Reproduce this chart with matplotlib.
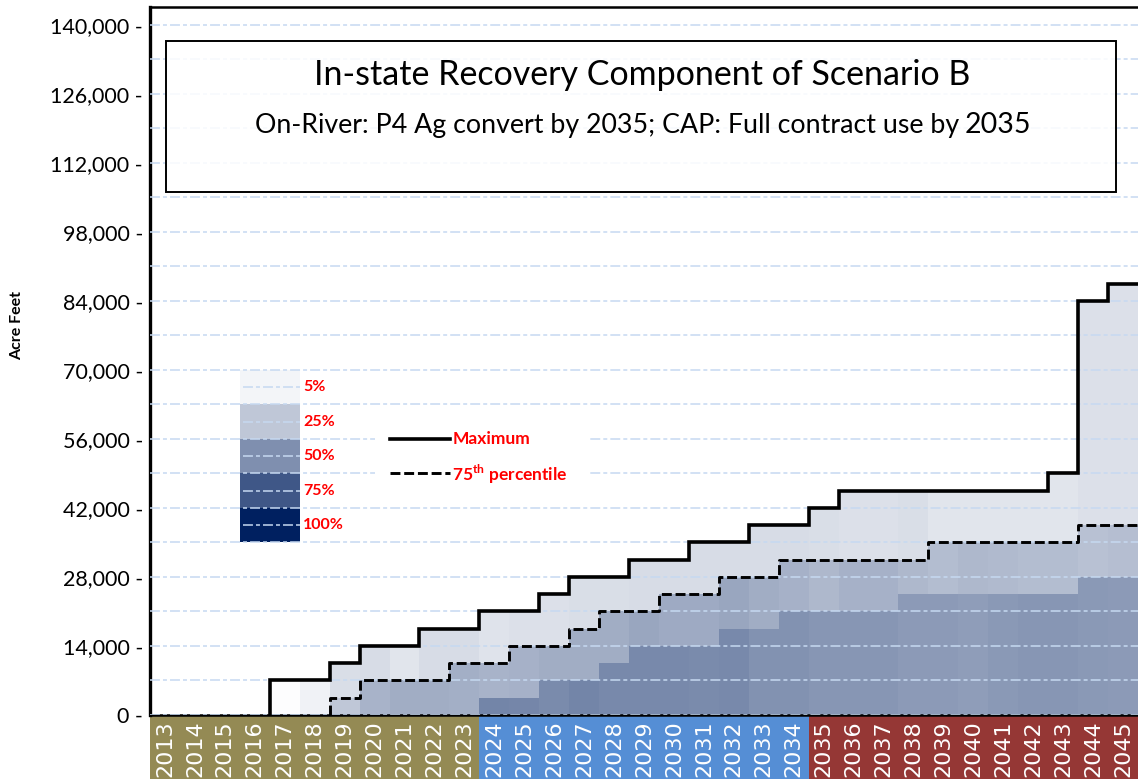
import matplotlib
matplotlib.use("Agg")
import matplotlib.pyplot as plt
import numpy as np
from matplotlib.colors import LinearSegmentedColormap
from matplotlib.patches import Rectangle
from matplotlib.ticker import MultipleLocator

plt.rcParams["font.family"] = ["Lato", "DejaVu Sans"]
plt.rcParams["mathtext.fontset"] = "custom"
plt.rcParams["mathtext.rm"] = "Lato:bold"

# ---- data (acre feet) ----
years = list(range(2013, 2046))
max_af = [0, 0, 0, 0, 7000, 7000, 10500, 14000, 14000, 17500, 17500,
          21000, 21000, 24500, 28000, 28000, 31500, 31500, 35000, 35000,
          38500, 38500, 42000, 45500, 45500, 45500, 45500, 45500, 45500,
          45500, 49000, 84000, 87500]
p75_af = [0, 0, 0, 0, 0, 0, 3500, 7000, 7000, 7000, 10500,
          10500, 14000, 14000, 17500, 21000, 21000, 24500, 24500, 28000,
          28000, 31500, 31500, 31500, 31500, 31500, 35000, 35000, 35000,
          35000, 35000, 38500, 38500]
low_af = [0, 0, 0, 0, 0, 0, 0, 0, 0, 0, 0,
          3500, 3500, 7000, 7000, 10500, 14000, 14000, 14000, 17500,
          17500, 21000, 21000, 21000, 21000, 24500, 24500, 24500, 24500,
          24500, 24500, 28000, 28000]

# share of traces reaching each band (drives the shading)
p_low = [0, 0, 0, 0, 0, 0, 0, 0, 0, 0, 0,
         0.55, 0.54, 0.52, 0.55, 0.53, 0.53, 0.53, 0.52, 0.53,
         0.49, 0.49, 0.47, 0.47, 0.47, 0.45, 0.45, 0.44, 0.46,
         0.47, 0.47, 0.46, 0.45]
p_mid = [0, 0, 0, 0, 0, 0, 0.25, 0.34, 0.37, 0.37, 0.36,
         0.34, 0.35, 0.37, 0.37, 0.37, 0.40, 0.38, 0.38, 0.40,
         0.37, 0.35, 0.32, 0.35, 0.35, 0.32, 0.30, 0.32, 0.31,
         0.30, 0.30, 0.28, 0.29]
p_top = [0, 0, 0, 0, 0.01, 0.06, 0.15, 0.16, 0.12, 0.16, 0.16,
         0.125, 0.14, 0.14, 0.15, 0.15, 0.16, 0.16, 0.16, 0.16,
         0.16, 0.16, 0.15, 0.14, 0.14, 0.15, 0.12, 0.12, 0.12,
         0.12, 0.12, 0.14, 0.14]

legend_pcts = [5, 25, 50, 75, 100]
periods = [(2013, 2023, "#948A54"), (2024, 2034, "#558ED5"), (2035, 2045, "#953735")]

cmap = LinearSegmentedColormap.from_list("prob", ["#FFFFFF", "#002060"])
grid_col = "#C6D9F1"
grid_ls = (0, (6.5, 2, 2.6, 2))
dash_ls = (0, (3.4, 1.3))


def step_xy(values, edges):
    # step outline starting at the first non-zero year, rising from 0
    v = np.asarray(values, dtype=float)
    i0 = int(np.argmax(v > 0))
    xs = np.concatenate([[edges[i0]], np.repeat(edges[i0:], 2)[1:-1]])
    ys = np.concatenate([[0.0], np.repeat(v[i0:], 2)])
    return xs, ys


fig = plt.figure(figsize=(11.38, 7.79), dpi=100)
ax = fig.add_axes([150 / 1138, 1 - 715 / 779, 988 / 1138, 708 / 779])

x = np.arange(len(years))
low = np.array(low_af)
p75 = np.array(p75_af)
mx = np.array(max_af)

ax.bar(x, low, width=1.0, color=cmap(np.array(p_low)), linewidth=0, zorder=1)
ax.bar(x, p75 - low, bottom=low, width=1.0, color=cmap(np.array(p_mid)), linewidth=0, zorder=1)
ax.bar(x, mx - p75, bottom=p75, width=1.0, color=cmap(np.array(p_top)), linewidth=0, zorder=1)

edges = np.arange(len(years) + 1) - 0.5
xs, ys = step_xy(max_af, edges)
ax.plot(xs, ys, color="black", linewidth=2.6, zorder=3, solid_joinstyle="miter")
xs, ys = step_xy(p75_af, edges)
ax.plot(xs, ys, color="black", linewidth=2.1, linestyle=dash_ls, zorder=3)

ax.set_xlim(-0.5, len(years) - 0.5)
ax.set_ylim(0, 143650)

# grid
ax.yaxis.set_major_locator(MultipleLocator(14000))
ax.yaxis.set_minor_locator(MultipleLocator(7000))
ax.grid(axis="y", which="both", color=grid_col, linewidth=1.1,
        linestyle=grid_ls, zorder=2.5)
ax.set_axisbelow(False)

yt = np.arange(0, 140001, 14000)
ax.set_yticks(yt)
ax.set_yticklabels([f"{int(v):,} -" for v in yt], fontsize=15.5)
ax.tick_params(axis="y", which="both", length=0, pad=5)

ax.set_xticks(x)
ax.set_xticklabels([str(y) for y in years], rotation=90, color="white",
                   fontsize=16, family="DejaVu Sans", va="top")
ax.tick_params(axis="x", length=0, pad=4)

# year band under the axis
xtrans = ax.get_xaxis_transform()
for start, end, col in periods:
    i0 = years.index(start)
    i1 = years.index(end)
    ax.add_patch(Rectangle((i0 - 0.5, -0.12), i1 - i0 + 1, 0.12, transform=xtrans,
                           facecolor=col, edgecolor="none", clip_on=False, zorder=0))

for side in ["left", "top", "bottom"]:
    ax.spines[side].set_color("black")
ax.spines["left"].set_linewidth(2.4)
ax.spines["top"].set_linewidth(1.8)
ax.spines["bottom"].set_linewidth(1.8)
ax.spines["right"].set_visible(False)

fig.text(17 / 1138, 1 - 325 / 779, "Acre Feet", rotation=90, fontsize=11.5,
         fontweight="bold", ha="center", va="center")

# colour legend
for k, pct in enumerate(legend_pcts[::-1]):
    y0 = 35000 + 7000 * k
    ax.add_patch(Rectangle((2.5, y0), 2.0, 7000, facecolor=cmap(pct / 100),
                           edgecolor="none", zorder=1))
    ax.plot([2.6, 4.5], [y0 + 3500] * 2, color=grid_col, linewidth=1.1,
            linestyle=grid_ls, zorder=2.6)
    ax.text(4.62, y0 + 3500, f"{pct}%", color="red", fontsize=11.5,
            fontweight="bold", ha="left", va="center", zorder=5)

# line legend
ax.add_patch(Rectangle((7.0, 44500), 7.2, 14500, facecolor="white",
                       edgecolor="none", zorder=4))
ax.plot([7.52, 9.52], [56000, 56000], color="black", linewidth=2.6, zorder=5)
ax.plot([7.52, 9.52], [49000, 49000], color="black", linewidth=2.1,
        linestyle=dash_ls, zorder=5)
ax.text(9.6, 56000, "Maximum", color="red", fontsize=12.5, fontweight="bold",
        ha="left", va="center", zorder=6)
ax.text(9.6, 48800, r"75$^{\mathrm{th}}$ percentile", color="red", fontsize=12.5,
        fontweight="bold", ha="left", va="center", zorder=6)

# title box
ax.add_patch(Rectangle((166 / 1138, 1 - 192 / 779), 950 / 1138, 151 / 779,
                       transform=fig.transFigure, facecolor=(1, 1, 1, 0.85),
                       edgecolor="black", linewidth=1.4, zorder=4, clip_on=False))
ax.text(642 / 1138, 1 - 75 / 779, "In-state Recovery Component of Scenario B",
        transform=fig.transFigure, fontsize=24.5, ha="center", va="center", zorder=6)
ax.text(959 / 1138, 1 - 126 / 779,
        "On-River: P4 Ag convert by 2035; CAP: Full contract use by",
        transform=fig.transFigure, fontsize=19.3, ha="right", va="center", zorder=6)
ax.text(965 / 1138, 1 - 125 / 779, "2035",
        transform=fig.transFigure, fontsize=20.5, ha="left", va="center", zorder=6)

fig.savefig("out.png", dpi=100, facecolor="white")
